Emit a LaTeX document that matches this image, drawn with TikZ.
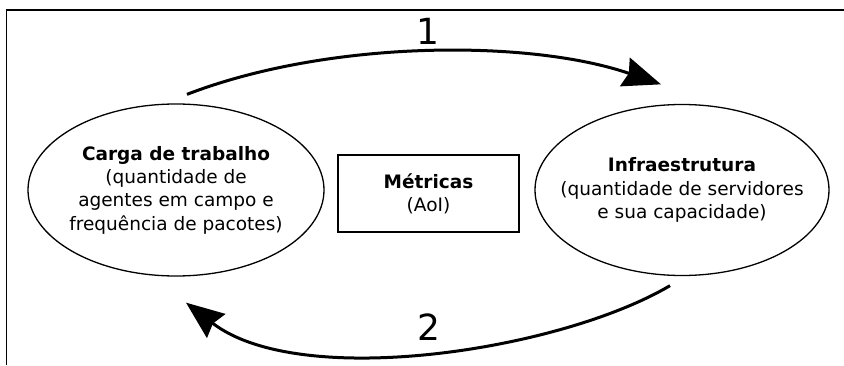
\documentclass[tikz,border=0pt]{standalone}
\usepackage{fontspec}
\setmainfont{DejaVu Sans}
\usepackage{tikz}
\usetikzlibrary{arrows.meta, positioning, shapes.geometric}

\begin{document}
\begin{tikzpicture}[x=1pt, y=1pt,
    oval/.style={draw, ellipse, line width=1.3pt, minimum width=296pt,
                 minimum height=172pt, inner sep=0pt},
    lbl/.style={align=center, font=\fontsize{18.5}{23.3}\selectfont},
    cycle arrow/.style={line width=3pt,
                 -{Stealth[length=38pt, width=30pt, inset=4pt]}},
    num/.style={font=\fontsize{36}{40}\selectfont}]
    \useasboundingbox (0,0) rectangle (844,365);
    % frame, only top and left edges show
    \draw[line width=1.2pt] (6.5,0) -- (6.5,355) -- (844,355);
    \node[oval] (carga) at (176,175) {};
    \node[lbl] (cargaTxt) at (carga.center)
      {\textbf{Carga de trabalho}\\(quantidade de\\agentes em campo e\\frequência de pacotes)};
    \node[oval, minimum width=294pt, minimum height=171pt] (infra) at (682,175) {};
    \node[lbl] (infraTxt) at (infra.center)
      {\textbf{Infraestrutura}\\(quantidade de servidores\\e sua capacidade)};
    \node[draw, line width=1.5pt, minimum width=181pt, minimum height=77pt,
          lbl] (metricas) at (428.5,171.5) {\textbf{Métricas}\\(AoI)};
    % arrows between the two ellipses
    \coordinate (topStart) at ([xshift=11pt, yshift=9pt]carga.north);
    \coordinate (topEnd) at ([xshift=-21pt, yshift=19.5pt]infra.north);
    \coordinate (botStart) at ([xshift=-12pt, yshift=-9.5pt]infra.south);
    \coordinate (botEnd) at ([xshift=10pt, yshift=-26pt]carga.south);
    \draw[cycle arrow] (topStart) .. controls +(143,55) and +(-131,45) .. (topEnd);
    \draw[cycle arrow] (botStart) .. controls +(-110,-65) and +(114,-88) .. (botEnd);
    \node[num] (one) at (428,334) {1};
    \node[num] (two) at (429,37.5) {2};
\end{tikzpicture}
\end{document}
